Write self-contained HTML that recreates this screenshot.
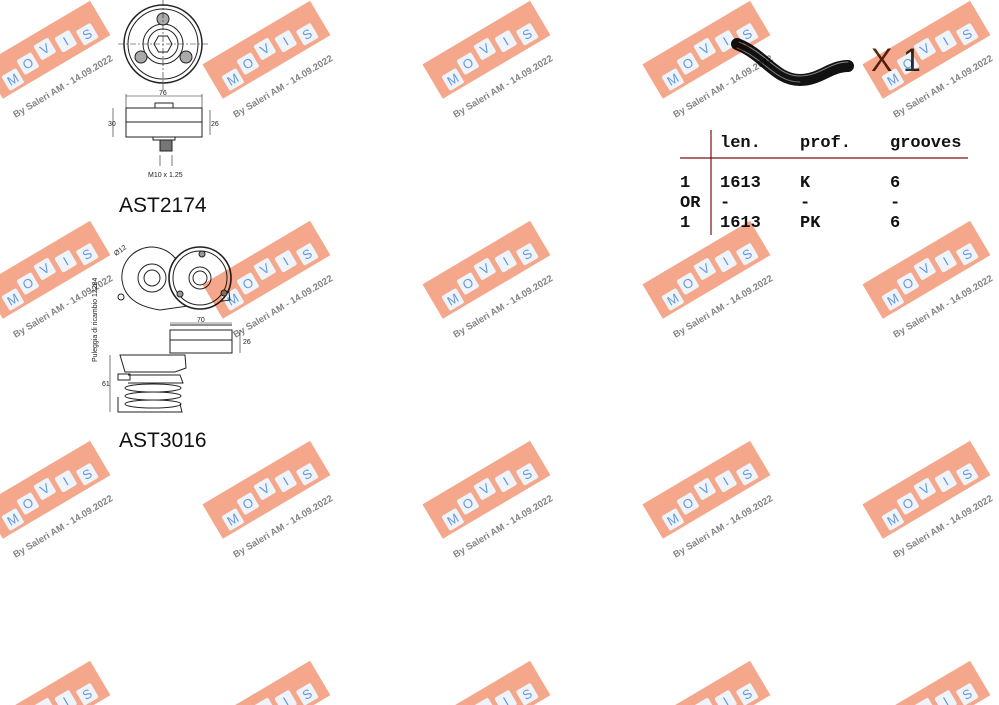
<!DOCTYPE html>
<html><head><meta charset="utf-8"><style>
html,body{margin:0;padding:0;background:#fff;width:999px;height:705px;overflow:hidden}
svg{position:absolute;left:0;top:0;overflow:hidden}
.m{font-family:"Liberation Mono","DejaVu Sans Mono",monospace;font-weight:bold;font-size:17px;fill:#111}
.d{font-family:"Liberation Sans",sans-serif;font-size:7px;fill:#222}
.wt{font-family:"Liberation Sans",sans-serif;font-weight:bold;font-size:9.5px;fill:#7a7a7a;text-anchor:middle}
.wl{font-family:"Liberation Sans",sans-serif;font-size:13px;fill:#5b8fd6;text-anchor:middle}
.bx{fill:#eef4fb}
.wr{fill:#f3a081}
</style></head><body>
<svg width="999" height="705" viewBox="0 0 999 705">
<g stroke="#222" fill="none" stroke-width="1">
<circle cx="163" cy="44" r="39" stroke-width="1.5"/>
<circle cx="163" cy="44" r="35"/>
<circle cx="163" cy="44" r="20"/>
<circle cx="163" cy="44" r="15"/>
<polygon points="172,44 167.5,52 158.5,52 154,44 158.5,36 167.5,36"/>
<circle cx="163" cy="19" r="6" fill="#aaa"/>
<circle cx="141" cy="57" r="6" fill="#aaa"/>
<circle cx="186" cy="57" r="6" fill="#aaa"/>
<line x1="118" y1="44" x2="208" y2="44" stroke-dasharray="6 2 2 2" stroke-width=".6"/>
<line x1="163" y1="0" x2="163" y2="90" stroke-dasharray="6 2 2 2" stroke-width=".6"/>
<rect x="126" y="108" width="76" height="29" fill="#fff"/>
<line x1="126" y1="122" x2="202" y2="122"/>
<rect x="155" y="103" width="18" height="5"/>
<rect x="153" y="137" width="22" height="3"/>
<rect x="160" y="140" width="12" height="11" fill="#777"/>
<line x1="126" y1="96" x2="202" y2="96" stroke-width=".6"/>
<line x1="126" y1="94" x2="126" y2="108" stroke-width=".6"/>
<line x1="202" y1="94" x2="202" y2="108" stroke-width=".6"/>
<line x1="113" y1="108" x2="113" y2="137" stroke-width=".6"/>
<line x1="210" y1="110" x2="210" y2="135" stroke-width=".6"/>
<line x1="160" y1="155" x2="160" y2="166" stroke-width=".6"/>
<line x1="172" y1="155" x2="172" y2="166" stroke-width=".6"/>
</g>
<text class="d" x="159" y="95">76</text>
<text class="d" x="108" y="126">30</text>
<text class="d" x="211" y="126">26</text>
<text class="d" x="148" y="177">M10 x 1.25</text>
<text x="119" y="212" font-family="Liberation Sans,sans-serif" font-size="21" fill="#111">AST2174</text>
<g stroke="#222" fill="none" stroke-width="1">
<path d="M122,280 A30,30 0 0 1 175,258 L200,250 L225,262 L230,300 L160,310 Q125,305 122,280Z"/>
<circle cx="152" cy="278" r="14"/><circle cx="152" cy="278" r="8"/>
<circle cx="200" cy="278" r="31" stroke-width="1.6" fill="#fff"/>
<circle cx="200" cy="278" r="27"/>
<circle cx="200" cy="278" r="11"/><circle cx="200" cy="278" r="7"/>
<circle cx="202" cy="254" r="3" fill="#999"/><circle cx="180" cy="294" r="3" fill="#999"/>
<circle cx="224" cy="293" r="3" fill="#999"/>
<circle cx="121" cy="297" r="3"/>
<rect x="170" y="330" width="62" height="23" fill="#fff"/>
<line x1="170" y1="340" x2="232" y2="340"/>
<line x1="170" y1="325" x2="232" y2="325"/>
<path d="M120,355 L185,355 L186,368 L175,372 L125,372 Z"/>
<rect x="118" y="374" width="12" height="6"/>
<path d="M128,375 L180,375 L183,383 L128,383"/>
<ellipse cx="153" cy="388" rx="28" ry="4"/>
<ellipse cx="153" cy="396" rx="28" ry="4"/>
<ellipse cx="153" cy="404" rx="28" ry="4"/>
<path d="M118,397 L118,412 L182,412 L180,404"/>
<line x1="110" y1="355" x2="110" y2="412" stroke-width=".6"/>
<line x1="240" y1="330" x2="240" y2="353" stroke-width=".6"/>
<line x1="170" y1="323" x2="232" y2="323" stroke-width=".6"/>
</g>
<text class="d" x="197" y="322">70</text>
<text class="d" x="243" y="344">26</text>
<text class="d" x="102" y="386">61</text>
<text class="d" x="116" y="256" transform="rotate(-35 116 256)">Ø12</text>
<text class="d" transform="translate(97,362) rotate(-90)">Puleggia di ricambio 12284</text>
<text x="119" y="447" font-family="Liberation Sans,sans-serif" font-size="21" fill="#111">AST3016</text>
<g fill="none" stroke-linecap="round">
<path d="M737,44 C765,55 775,80 800,80 C820,80 830,66 848,66" stroke="#111" stroke-width="12"/>
<path d="M739,42 C767,53 777,76 800,76 C820,76 830,62 848,62" stroke="#888" stroke-width="1"/>
<path d="M737,48 C765,59 775,82 800,82" stroke="#777" stroke-width="1"/>
</g>
<text x="871" y="71" font-family="Liberation Sans,sans-serif" font-size="32" fill="#5a2b14">X</text>
<text x="903" y="71" font-family="Liberation Sans,sans-serif" font-size="32" fill="#333">1</text>
<line x1="711" y1="130" x2="711" y2="235" stroke="#7a1010" stroke-width="1.2"/>
<line x1="680" y1="158" x2="968" y2="158" stroke="#7a1010" stroke-width="1.2"/>
<text class="m" x="720" y="147">len.</text><text class="m" x="800" y="147">prof.</text><text class="m" x="890" y="147">grooves</text>
<text class="m" x="680" y="187">1</text><text class="m" x="720" y="187">1613</text><text class="m" x="800" y="187">K</text><text class="m" x="890" y="187">6</text>
<text class="m" x="680" y="207">OR</text><text class="m" x="720" y="207">-</text><text class="m" x="800" y="207">-</text><text class="m" x="890" y="207">-</text>
<text class="m" x="680" y="227">1</text><text class="m" x="720" y="227">1613</text><text class="m" x="800" y="227">PK</text><text class="m" x="890" y="227">6</text>
</svg>
<svg width="999" height="705" viewBox="0 0 999 705" style="opacity:.92;mix-blend-mode:multiply">
<g transform="translate(46,50) rotate(-30.6)"><rect class="wr" x="-62" y="-20" width="125" height="40"/><rect class="bx" x="-52" y="0" width="17" height="17" rx="2"/><text class="wl" x="-43.5" y="13">M</text><rect class="bx" x="-31" y="-6" width="17" height="17" rx="2"/><text class="wl" x="-22.5" y="7">O</text><rect class="bx" x="-9" y="-10" width="17" height="17" rx="2"/><text class="wl" x="-0.5" y="3">V</text><rect class="bx" x="13" y="-6" width="17" height="17" rx="2"/><text class="wl" x="21.5" y="7">I</text><rect class="bx" x="35" y="-1" width="17" height="17" rx="2"/><text class="wl" x="43.5" y="12">S</text><text class="wt" x="-4" y="43">By Saleri AM - 14.09.2022</text></g>
<g transform="translate(266,50) rotate(-30.6)"><rect class="wr" x="-62" y="-20" width="125" height="40"/><rect class="bx" x="-52" y="0" width="17" height="17" rx="2"/><text class="wl" x="-43.5" y="13">M</text><rect class="bx" x="-31" y="-6" width="17" height="17" rx="2"/><text class="wl" x="-22.5" y="7">O</text><rect class="bx" x="-9" y="-10" width="17" height="17" rx="2"/><text class="wl" x="-0.5" y="3">V</text><rect class="bx" x="13" y="-6" width="17" height="17" rx="2"/><text class="wl" x="21.5" y="7">I</text><rect class="bx" x="35" y="-1" width="17" height="17" rx="2"/><text class="wl" x="43.5" y="12">S</text><text class="wt" x="-4" y="43">By Saleri AM - 14.09.2022</text></g>
<g transform="translate(486,50) rotate(-30.6)"><rect class="wr" x="-62" y="-20" width="125" height="40"/><rect class="bx" x="-52" y="0" width="17" height="17" rx="2"/><text class="wl" x="-43.5" y="13">M</text><rect class="bx" x="-31" y="-6" width="17" height="17" rx="2"/><text class="wl" x="-22.5" y="7">O</text><rect class="bx" x="-9" y="-10" width="17" height="17" rx="2"/><text class="wl" x="-0.5" y="3">V</text><rect class="bx" x="13" y="-6" width="17" height="17" rx="2"/><text class="wl" x="21.5" y="7">I</text><rect class="bx" x="35" y="-1" width="17" height="17" rx="2"/><text class="wl" x="43.5" y="12">S</text><text class="wt" x="-4" y="43">By Saleri AM - 14.09.2022</text></g>
<g transform="translate(706,50) rotate(-30.6)"><rect class="wr" x="-62" y="-20" width="125" height="40"/><rect class="bx" x="-52" y="0" width="17" height="17" rx="2"/><text class="wl" x="-43.5" y="13">M</text><rect class="bx" x="-31" y="-6" width="17" height="17" rx="2"/><text class="wl" x="-22.5" y="7">O</text><rect class="bx" x="-9" y="-10" width="17" height="17" rx="2"/><text class="wl" x="-0.5" y="3">V</text><rect class="bx" x="13" y="-6" width="17" height="17" rx="2"/><text class="wl" x="21.5" y="7">I</text><rect class="bx" x="35" y="-1" width="17" height="17" rx="2"/><text class="wl" x="43.5" y="12">S</text><text class="wt" x="-4" y="43">By Saleri AM - 14.09.2022</text></g>
<g transform="translate(926,50) rotate(-30.6)"><rect class="wr" x="-62" y="-20" width="125" height="40"/><rect class="bx" x="-52" y="0" width="17" height="17" rx="2"/><text class="wl" x="-43.5" y="13">M</text><rect class="bx" x="-31" y="-6" width="17" height="17" rx="2"/><text class="wl" x="-22.5" y="7">O</text><rect class="bx" x="-9" y="-10" width="17" height="17" rx="2"/><text class="wl" x="-0.5" y="3">V</text><rect class="bx" x="13" y="-6" width="17" height="17" rx="2"/><text class="wl" x="21.5" y="7">I</text><rect class="bx" x="35" y="-1" width="17" height="17" rx="2"/><text class="wl" x="43.5" y="12">S</text><text class="wt" x="-4" y="43">By Saleri AM - 14.09.2022</text></g>
<g transform="translate(46,270) rotate(-30.6)"><rect class="wr" x="-62" y="-20" width="125" height="40"/><rect class="bx" x="-52" y="0" width="17" height="17" rx="2"/><text class="wl" x="-43.5" y="13">M</text><rect class="bx" x="-31" y="-6" width="17" height="17" rx="2"/><text class="wl" x="-22.5" y="7">O</text><rect class="bx" x="-9" y="-10" width="17" height="17" rx="2"/><text class="wl" x="-0.5" y="3">V</text><rect class="bx" x="13" y="-6" width="17" height="17" rx="2"/><text class="wl" x="21.5" y="7">I</text><rect class="bx" x="35" y="-1" width="17" height="17" rx="2"/><text class="wl" x="43.5" y="12">S</text><text class="wt" x="-4" y="43">By Saleri AM - 14.09.2022</text></g>
<g transform="translate(266,270) rotate(-30.6)"><rect class="wr" x="-62" y="-20" width="125" height="40"/><rect class="bx" x="-52" y="0" width="17" height="17" rx="2"/><text class="wl" x="-43.5" y="13">M</text><rect class="bx" x="-31" y="-6" width="17" height="17" rx="2"/><text class="wl" x="-22.5" y="7">O</text><rect class="bx" x="-9" y="-10" width="17" height="17" rx="2"/><text class="wl" x="-0.5" y="3">V</text><rect class="bx" x="13" y="-6" width="17" height="17" rx="2"/><text class="wl" x="21.5" y="7">I</text><rect class="bx" x="35" y="-1" width="17" height="17" rx="2"/><text class="wl" x="43.5" y="12">S</text><text class="wt" x="-4" y="43">By Saleri AM - 14.09.2022</text></g>
<g transform="translate(486,270) rotate(-30.6)"><rect class="wr" x="-62" y="-20" width="125" height="40"/><rect class="bx" x="-52" y="0" width="17" height="17" rx="2"/><text class="wl" x="-43.5" y="13">M</text><rect class="bx" x="-31" y="-6" width="17" height="17" rx="2"/><text class="wl" x="-22.5" y="7">O</text><rect class="bx" x="-9" y="-10" width="17" height="17" rx="2"/><text class="wl" x="-0.5" y="3">V</text><rect class="bx" x="13" y="-6" width="17" height="17" rx="2"/><text class="wl" x="21.5" y="7">I</text><rect class="bx" x="35" y="-1" width="17" height="17" rx="2"/><text class="wl" x="43.5" y="12">S</text><text class="wt" x="-4" y="43">By Saleri AM - 14.09.2022</text></g>
<g transform="translate(706,270) rotate(-30.6)"><rect class="wr" x="-62" y="-20" width="125" height="40"/><rect class="bx" x="-52" y="0" width="17" height="17" rx="2"/><text class="wl" x="-43.5" y="13">M</text><rect class="bx" x="-31" y="-6" width="17" height="17" rx="2"/><text class="wl" x="-22.5" y="7">O</text><rect class="bx" x="-9" y="-10" width="17" height="17" rx="2"/><text class="wl" x="-0.5" y="3">V</text><rect class="bx" x="13" y="-6" width="17" height="17" rx="2"/><text class="wl" x="21.5" y="7">I</text><rect class="bx" x="35" y="-1" width="17" height="17" rx="2"/><text class="wl" x="43.5" y="12">S</text><text class="wt" x="-4" y="43">By Saleri AM - 14.09.2022</text></g>
<g transform="translate(926,270) rotate(-30.6)"><rect class="wr" x="-62" y="-20" width="125" height="40"/><rect class="bx" x="-52" y="0" width="17" height="17" rx="2"/><text class="wl" x="-43.5" y="13">M</text><rect class="bx" x="-31" y="-6" width="17" height="17" rx="2"/><text class="wl" x="-22.5" y="7">O</text><rect class="bx" x="-9" y="-10" width="17" height="17" rx="2"/><text class="wl" x="-0.5" y="3">V</text><rect class="bx" x="13" y="-6" width="17" height="17" rx="2"/><text class="wl" x="21.5" y="7">I</text><rect class="bx" x="35" y="-1" width="17" height="17" rx="2"/><text class="wl" x="43.5" y="12">S</text><text class="wt" x="-4" y="43">By Saleri AM - 14.09.2022</text></g>
<g transform="translate(46,490) rotate(-30.6)"><rect class="wr" x="-62" y="-20" width="125" height="40"/><rect class="bx" x="-52" y="0" width="17" height="17" rx="2"/><text class="wl" x="-43.5" y="13">M</text><rect class="bx" x="-31" y="-6" width="17" height="17" rx="2"/><text class="wl" x="-22.5" y="7">O</text><rect class="bx" x="-9" y="-10" width="17" height="17" rx="2"/><text class="wl" x="-0.5" y="3">V</text><rect class="bx" x="13" y="-6" width="17" height="17" rx="2"/><text class="wl" x="21.5" y="7">I</text><rect class="bx" x="35" y="-1" width="17" height="17" rx="2"/><text class="wl" x="43.5" y="12">S</text><text class="wt" x="-4" y="43">By Saleri AM - 14.09.2022</text></g>
<g transform="translate(266,490) rotate(-30.6)"><rect class="wr" x="-62" y="-20" width="125" height="40"/><rect class="bx" x="-52" y="0" width="17" height="17" rx="2"/><text class="wl" x="-43.5" y="13">M</text><rect class="bx" x="-31" y="-6" width="17" height="17" rx="2"/><text class="wl" x="-22.5" y="7">O</text><rect class="bx" x="-9" y="-10" width="17" height="17" rx="2"/><text class="wl" x="-0.5" y="3">V</text><rect class="bx" x="13" y="-6" width="17" height="17" rx="2"/><text class="wl" x="21.5" y="7">I</text><rect class="bx" x="35" y="-1" width="17" height="17" rx="2"/><text class="wl" x="43.5" y="12">S</text><text class="wt" x="-4" y="43">By Saleri AM - 14.09.2022</text></g>
<g transform="translate(486,490) rotate(-30.6)"><rect class="wr" x="-62" y="-20" width="125" height="40"/><rect class="bx" x="-52" y="0" width="17" height="17" rx="2"/><text class="wl" x="-43.5" y="13">M</text><rect class="bx" x="-31" y="-6" width="17" height="17" rx="2"/><text class="wl" x="-22.5" y="7">O</text><rect class="bx" x="-9" y="-10" width="17" height="17" rx="2"/><text class="wl" x="-0.5" y="3">V</text><rect class="bx" x="13" y="-6" width="17" height="17" rx="2"/><text class="wl" x="21.5" y="7">I</text><rect class="bx" x="35" y="-1" width="17" height="17" rx="2"/><text class="wl" x="43.5" y="12">S</text><text class="wt" x="-4" y="43">By Saleri AM - 14.09.2022</text></g>
<g transform="translate(706,490) rotate(-30.6)"><rect class="wr" x="-62" y="-20" width="125" height="40"/><rect class="bx" x="-52" y="0" width="17" height="17" rx="2"/><text class="wl" x="-43.5" y="13">M</text><rect class="bx" x="-31" y="-6" width="17" height="17" rx="2"/><text class="wl" x="-22.5" y="7">O</text><rect class="bx" x="-9" y="-10" width="17" height="17" rx="2"/><text class="wl" x="-0.5" y="3">V</text><rect class="bx" x="13" y="-6" width="17" height="17" rx="2"/><text class="wl" x="21.5" y="7">I</text><rect class="bx" x="35" y="-1" width="17" height="17" rx="2"/><text class="wl" x="43.5" y="12">S</text><text class="wt" x="-4" y="43">By Saleri AM - 14.09.2022</text></g>
<g transform="translate(926,490) rotate(-30.6)"><rect class="wr" x="-62" y="-20" width="125" height="40"/><rect class="bx" x="-52" y="0" width="17" height="17" rx="2"/><text class="wl" x="-43.5" y="13">M</text><rect class="bx" x="-31" y="-6" width="17" height="17" rx="2"/><text class="wl" x="-22.5" y="7">O</text><rect class="bx" x="-9" y="-10" width="17" height="17" rx="2"/><text class="wl" x="-0.5" y="3">V</text><rect class="bx" x="13" y="-6" width="17" height="17" rx="2"/><text class="wl" x="21.5" y="7">I</text><rect class="bx" x="35" y="-1" width="17" height="17" rx="2"/><text class="wl" x="43.5" y="12">S</text><text class="wt" x="-4" y="43">By Saleri AM - 14.09.2022</text></g>
<g transform="translate(46,710) rotate(-30.6)"><rect class="wr" x="-62" y="-20" width="125" height="40"/><rect class="bx" x="-31" y="-6" width="17" height="17" rx="2"/><rect class="bx" x="-9" y="-10" width="17" height="17" rx="2"/><rect class="bx" x="13" y="-6" width="17" height="17" rx="2"/><text class="wl" x="21.5" y="7">I</text><rect class="bx" x="35" y="-1" width="17" height="17" rx="2"/><text class="wl" x="43.5" y="12">S</text></g>
<g transform="translate(266,710) rotate(-30.6)"><rect class="wr" x="-62" y="-20" width="125" height="40"/><rect class="bx" x="-31" y="-6" width="17" height="17" rx="2"/><rect class="bx" x="-9" y="-10" width="17" height="17" rx="2"/><rect class="bx" x="13" y="-6" width="17" height="17" rx="2"/><text class="wl" x="21.5" y="7">I</text><rect class="bx" x="35" y="-1" width="17" height="17" rx="2"/><text class="wl" x="43.5" y="12">S</text></g>
<g transform="translate(486,710) rotate(-30.6)"><rect class="wr" x="-62" y="-20" width="125" height="40"/><rect class="bx" x="-31" y="-6" width="17" height="17" rx="2"/><rect class="bx" x="-9" y="-10" width="17" height="17" rx="2"/><rect class="bx" x="13" y="-6" width="17" height="17" rx="2"/><text class="wl" x="21.5" y="7">I</text><rect class="bx" x="35" y="-1" width="17" height="17" rx="2"/><text class="wl" x="43.5" y="12">S</text></g>
<g transform="translate(706,710) rotate(-30.6)"><rect class="wr" x="-62" y="-20" width="125" height="40"/><rect class="bx" x="-31" y="-6" width="17" height="17" rx="2"/><rect class="bx" x="-9" y="-10" width="17" height="17" rx="2"/><rect class="bx" x="13" y="-6" width="17" height="17" rx="2"/><text class="wl" x="21.5" y="7">I</text><rect class="bx" x="35" y="-1" width="17" height="17" rx="2"/><text class="wl" x="43.5" y="12">S</text></g>
<g transform="translate(926,710) rotate(-30.6)"><rect class="wr" x="-62" y="-20" width="125" height="40"/><rect class="bx" x="-31" y="-6" width="17" height="17" rx="2"/><rect class="bx" x="-9" y="-10" width="17" height="17" rx="2"/><rect class="bx" x="13" y="-6" width="17" height="17" rx="2"/><text class="wl" x="21.5" y="7">I</text><rect class="bx" x="35" y="-1" width="17" height="17" rx="2"/><text class="wl" x="43.5" y="12">S</text></g>
</svg>
</body></html>
